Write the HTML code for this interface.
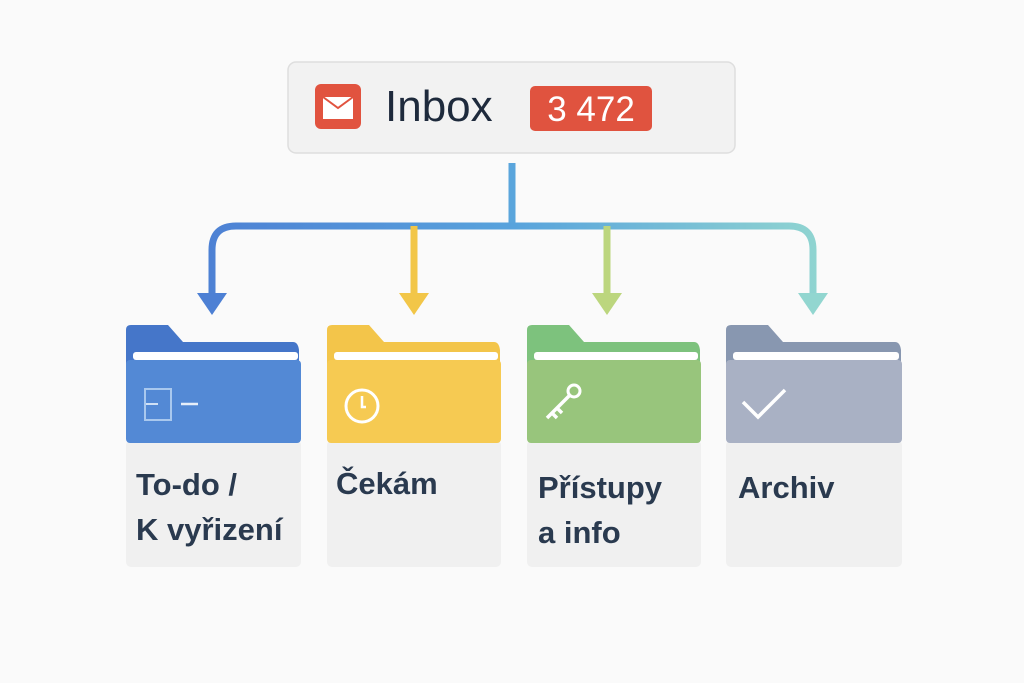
<!DOCTYPE html>
<html><head><meta charset="utf-8"><style>
body{margin:0;width:1024px;height:683px;background:#fafafa;overflow:hidden;font-family:"Liberation Sans","DejaVu Sans",sans-serif;}
.t{position:absolute;font-size:31px;font-weight:bold;color:#2a3a4f;line-height:45px;}
</style></head><body>
<svg width="1024" height="683" style="position:absolute;left:0;top:0">
<defs>
<linearGradient id="g" x1="200" y1="0" x2="830" y2="0" gradientUnits="userSpaceOnUse">
<stop offset="0" stop-color="#4d80d4"/><stop offset="0.5" stop-color="#58a3dc"/><stop offset="1" stop-color="#92d6d0"/></linearGradient>
</defs>
<rect x="288" y="62" width="447" height="91" rx="8" fill="#f2f2f2" stroke="#dedede" stroke-width="1.5"/>
<rect x="315" y="84" width="46" height="45" rx="6" fill="#e1533f"/>
<path d="M323 97 h30 v22 h-30 z" fill="#fff"/>
<path d="M323 97 l15 11 l15 -11" fill="none" stroke="#e1533f" stroke-width="2"/>
<rect x="530" y="86" width="122" height="45" rx="5" fill="#e0533f"/>
<text x="385" y="121" font-size="44" fill="#1e2a3c" font-family="Liberation Sans, sans-serif">Inbox</text>
<text x="591" y="121" font-size="35" fill="#fff" text-anchor="middle" font-family="Liberation Sans, sans-serif">3 472</text>
<line x1="512" y1="163" x2="512" y2="226" stroke="#5aa5dc" stroke-width="7"/>
<path d="M212 296 V250 Q212 226 236 226 H789 Q813 226 813 250 V296" fill="none" stroke="url(#g)" stroke-width="7"/>
<line x1="414" y1="226" x2="414" y2="296" stroke="#f2c648" stroke-width="7"/>
<line x1="607" y1="226" x2="607" y2="296" stroke="#bcd67e" stroke-width="7"/>
<path d="M197 293 h30 l-15 22 z" fill="#4d80d4"/>
<path d="M399 293 h30 l-15 22 z" fill="#f2c648"/>
<path d="M592 293 h30 l-15 22 z" fill="#bcd67e"/>
<path d="M798 293 h30 l-15 22 z" fill="#92d6d0"/>
<g>
<rect x="126" y="440" width="175" height="127" rx="5" fill="#f0f0f0"/>
<path d="M126 330 q0 -5 5 -5 h37 l15 17 h110 q5 0 6 8 v20 h-173 z" fill="#4576c9"/>
<rect x="133" y="352" width="165" height="8" rx="3" fill="#fff"/>
<rect x="126" y="360" width="175" height="83" rx="4" fill="#5389d5"/>
<rect x="145" y="389" width="26" height="31" fill="none" stroke="#a9c8ee" stroke-width="2"/>
<line x1="146" y1="404" x2="158" y2="404" stroke="#cfe0f5" stroke-width="2"/>
<line x1="181" y1="404" x2="198" y2="404" stroke="#e6eef9" stroke-width="2.5"/>
</g>
<g>
<rect x="327" y="440" width="174" height="127" rx="5" fill="#f0f0f0"/>
<path d="M327 330 q0 -5 5 -5 h37 l15 17 h110 q5 0 6 8 v20 h-173 z" fill="#f3c54a"/>
<rect x="334" y="352" width="164" height="8" rx="3" fill="#fff"/>
<rect x="327" y="360" width="174" height="83" rx="4" fill="#f6ca52"/>
<circle cx="362" cy="406" r="16" fill="none" stroke="#fff" stroke-width="3"/>
<path d="M362 396 v11 h4" fill="none" stroke="#fff" stroke-width="2.5"/>
</g>
<g>
<rect x="527" y="440" width="174" height="127" rx="5" fill="#f0f0f0"/>
<path d="M527 330 q0 -5 5 -5 h37 l15 17 h110 q5 0 6 8 v20 h-173 z" fill="#7dc27d"/>
<rect x="534" y="352" width="164" height="8" rx="3" fill="#fff"/>
<rect x="527" y="360" width="174" height="83" rx="4" fill="#98c57c"/>
<circle cx="574" cy="391" r="6" fill="none" stroke="#fff" stroke-width="3"/>
<path d="M569 396 L547 418 M552 413 l5 5 M557 408 l5 5" fill="none" stroke="#fff" stroke-width="3.5"/>
</g>
<g>
<rect x="726" y="440" width="176" height="127" rx="5" fill="#f0f0f0"/>
<path d="M726 330 q0 -5 5 -5 h37 l15 17 h112 q5 0 6 8 v20 h-175 z" fill="#8897b0"/>
<rect x="733" y="352" width="166" height="8" rx="3" fill="#fff"/>
<rect x="726" y="360" width="176" height="83" rx="4" fill="#a9b1c4"/>
<path d="M743 402 l15 15 l27 -27" fill="none" stroke="#fff" stroke-width="3.5"/>
</g>
</svg>
<div class="t" style="left:136px;top:462px">To-do /<br>K vyřizení</div>
<div class="t" style="left:336px;top:461px">Čekám</div>
<div class="t" style="left:538px;top:465px">Přístupy<br>a info</div>
<div class="t" style="left:738px;top:465px">Archiv</div>
</body></html>
